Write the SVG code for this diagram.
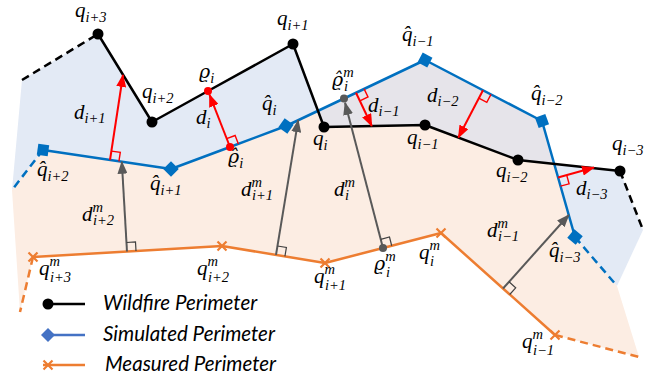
<svg xmlns="http://www.w3.org/2000/svg" width="662" height="379" viewBox="0 0 662 379">
<style>
.m{font-family:"Liberation Serif","DejaVu Serif",serif;font-style:italic;font-size:21px;fill:#000}
.r{font-family:"DejaVu Serif",serif;font-size:19px}
.s{font-family:"Liberation Serif",serif;font-size:14.5px}
.leg{font-family:Lato,"Liberation Sans",sans-serif;font-style:italic;font-size:20.5px;fill:#000}
.blk{fill:none;stroke:#000;stroke-width:2.5;stroke-linejoin:round}
.blu{fill:none;stroke:#0070C0;stroke-width:2.5;stroke-linejoin:round}
.org{fill:none;stroke:#ED7D31;stroke-width:2.5;stroke-linejoin:round}
.dash{stroke-dasharray:8 5}
.ra{fill:none;stroke:#FF0000;stroke-width:2;marker-end:url(#ah-red)}
.ga{fill:none;stroke:#595959;stroke-width:2;marker-end:url(#ah-gray)}
.rr{fill:none;stroke:#FF0000;stroke-width:1.4}
.gr{fill:none;stroke:#404040;stroke-width:1.2}
.bd{fill:#000}
.bq{fill:#0070C0}
.ox{stroke:#ED7D31;stroke-width:2.2;fill:none}
</style>
<defs>
<marker id="ah-red" viewBox="0 0 13 10" refX="12" refY="5" markerWidth="13" markerHeight="10" markerUnits="userSpaceOnUse" orient="auto"><path d="M0,0 L13,5 L0,10 Z" fill="#FF0000"/></marker>
<marker id="ah-gray" viewBox="0 0 13 10" refX="12" refY="5" markerWidth="13" markerHeight="10" markerUnits="userSpaceOnUse" orient="auto"><path d="M0,0 L13,5 L0,10 Z" fill="#595959"/></marker>
<rect id="sq" x="-5.5" y="-5.5" width="11" height="11"/>
<path id="xm" d="M-4.5,-4.5 L4.5,4.5 M-4.5,4.5 L4.5,-4.5"/>
</defs>

<g id="regions">
<polygon points="12,190 43,150 171,169 230,147 286,126 318,111 324,127 425,125 518,160 554,164 575,237 617,286 639,357 555,335 441,233 325,263 222,246 33,257 20,312" fill="#FCEDE3"/>
<polygon points="22,80 98,34 152,122 208,91 293,44 318,111 286,126 230,147 171,169 43,150 12,190" fill="#E3EAF5"/>
<polygon points="554,164 620,171 643,230 617,286 575,237" fill="#E3EAF5"/>
<polygon points="318,111 425,60 542,121 554,164 518,160 425,125 324,127" fill="#E6E4EA"/>
</g>

<g id="connectors">
<polyline class="org" points="33,257 222,246 325,263 383,248 441,233 555,335"/>
<line class="org dash" x1="33" y1="257" x2="20" y2="312"/>
<line class="org dash" x1="555" y1="335" x2="639" y2="357"/>
<polyline class="blu" points="43,150 171,169 230,147 286,126 344,98.5 425,60 542,121 575,237"/>
<line class="blu dash" x1="43" y1="150" x2="12" y2="190"/>
<line class="blu dash" x1="575" y1="237" x2="617" y2="286"/>
<polyline class="blk" points="98,34 152,122 208,91 293,44 324,127 425,125 518,160 620,171"/>
<line class="blk dash" x1="22" y1="80" x2="98" y2="34"/>
<line class="blk dash" x1="620" y1="171" x2="643" y2="230"/>

<line class="ra" x1="110" y1="160" x2="123" y2="75"/>
<polyline class="rr" points="111.4,151.1 120.3,152.4 118.9,161.3"/>
<line class="ra" x1="230" y1="147" x2="209.5" y2="94.7"/>
<polyline class="rr" points="226.7,138.6 235.1,135.5 238.4,143.9"/>
<line class="ra" x1="356" y1="92.8" x2="371.8" y2="126"/>
<polyline class="rr" points="359.9,100.9 368,97 364.1,88.9"/>
<line class="ra" x1="483" y1="90.2" x2="458.4" y2="137.5"/>
<polyline class="rr" points="478.8,98.2 486.8,102.4 491,94.4"/>
<line class="ra" x1="558" y1="177.5" x2="594" y2="167.5"/>
<polyline class="rr" points="566.7,175.1 569.1,183.8 560.5,186.2"/>

<line class="ga" x1="127" y1="251.5" x2="121.8" y2="161.7"/>
<polyline class="gr" points="126.5,242.5 135.5,242 136,251"/>
<line class="ga" x1="276" y1="254.9" x2="298.2" y2="120.2"/>
<polyline class="gr" points="277.5,246 286.4,247.5 284.9,256.4"/>
<line class="ga" x1="383" y1="248" x2="345.1" y2="102.8"/>
<polyline class="gr" points="380.75,239.3 389.5,237 391.7,245.75"/>
<line class="ga" x1="503" y1="288.5" x2="568.8" y2="215"/>
<polyline class="gr" points="509,281.8 515.7,287.8 509.7,294.5"/>
</g>

<g id="wildfire-points">
<circle class="bd" cx="98" cy="34" r="5.5"/>
<circle class="bd" cx="152" cy="122" r="5.5"/>
<circle class="bd" cx="293" cy="44" r="5.5"/>
<circle class="bd" cx="324" cy="127" r="5.5"/>
<circle class="bd" cx="425" cy="125" r="5.5"/>
<circle class="bd" cx="518" cy="160" r="5.5"/>
<circle class="bd" cx="620" cy="171" r="5.5"/>
<circle cx="208" cy="91" r="4" fill="#FF0000"/>
<circle cx="230" cy="147" r="4" fill="#FF0000"/>
</g>

<g id="simulated-points">
<use href="#sq" class="bq" transform="translate(43,150) rotate(8)"/>
<use href="#sq" class="bq" transform="translate(171,169) rotate(45)"/>
<use href="#sq" class="bq" transform="translate(286,126) rotate(35)"/>
<use href="#sq" class="bq" transform="translate(425,60) rotate(28)"/>
<use href="#sq" class="bq" transform="translate(542,121) rotate(-20)"/>
<use href="#sq" class="bq" transform="translate(575,237) rotate(40)"/>
<circle cx="344" cy="98.5" r="4" fill="#595959"/>
</g>

<g id="measured-points">
<use href="#xm" class="ox" transform="translate(33,257)"/>
<use href="#xm" class="ox" transform="translate(222,246)"/>
<use href="#xm" class="ox" transform="translate(325,263)"/>
<use href="#xm" class="ox" transform="translate(441,233)"/>
<use href="#xm" class="ox" transform="translate(555,335)"/>
<circle cx="383" cy="248" r="4" fill="#595959"/>
</g>

<g id="labels">
<text class="m" x="75" y="17">q<tspan class="s" dy="5">i+3</tspan></text>
<text class="m" x="142" y="98">q<tspan class="s" dy="5">i+2</tspan></text>
<text class="m" x="277" y="25">q<tspan class="s" dy="5">i+1</tspan></text>
<text class="m" x="313" y="145">q<tspan class="s" dy="5">i</tspan></text>
<text class="m" x="407" y="144">q<tspan class="s" dy="5">i−1</tspan></text>
<text class="m" x="496" y="177">q<tspan class="s" dy="5">i−2</tspan></text>
<text class="m" x="612" y="150">q<tspan class="s" dy="5">i−3</tspan></text>
<text class="m" x="199" y="78"><tspan class="r">ϱ</tspan><tspan class="s" dy="5">i</tspan></text>
<text class="m" x="228" y="163"><tspan class="r">ϱ̂</tspan><tspan class="s" dy="5">i</tspan></text>
<text class="m" x="332" y="86"><tspan class="r">ϱ̂</tspan><tspan class="s" dy="-9">m</tspan><tspan class="s" x="344" dy="14">i</tspan></text>
<text class="m" x="37" y="176">q̂<tspan class="s" dy="5">i+2</tspan></text>
<text class="m" x="150" y="190">q̂<tspan class="s" dy="5">i+1</tspan></text>
<text class="m" x="262" y="110">q̂<tspan class="s" dy="5">i</tspan></text>
<text class="m" x="402" y="41">q̂<tspan class="s" dy="5">i−1</tspan></text>
<text class="m" x="531" y="100">q̂<tspan class="s" dy="5">i−2</tspan></text>
<text class="m" x="549" y="257">q̂<tspan class="s" dy="5">i−3</tspan></text>
<text class="m" x="74" y="119">d<tspan class="s" dy="4">i+1</tspan></text>
<text class="m" x="196" y="124">d<tspan class="s" dy="4">i</tspan></text>
<text class="m" x="368" y="112">d<tspan class="s" dy="4">i−1</tspan></text>
<text class="m" x="427" y="102">d<tspan class="s" dy="4">i−2</tspan></text>
<text class="m" x="576" y="195">d<tspan class="s" dy="4">i−3</tspan></text>
<text class="m" x="82" y="221">d<tspan class="s" dy="-9">m</tspan><tspan class="s" x="93" dy="13">i+2</tspan></text>
<text class="m" x="241" y="196">d<tspan class="s" dy="-9">m</tspan><tspan class="s" x="252" dy="13">i+1</tspan></text>
<text class="m" x="334" y="196">d<tspan class="s" dy="-9">m</tspan><tspan class="s" x="345" dy="13">i</tspan></text>
<text class="m" x="487" y="237">d<tspan class="s" dy="-9">m</tspan><tspan class="s" x="498" dy="13">i−1</tspan></text>
<text class="m" x="39" y="275">q<tspan class="s" dy="-9">m</tspan><tspan class="s" x="50" dy="16">i+3</tspan></text>
<text class="m" x="197" y="275">q<tspan class="s" dy="-9">m</tspan><tspan class="s" x="208" dy="16">i+2</tspan></text>
<text class="m" x="314" y="283">q<tspan class="s" dy="-9">m</tspan><tspan class="s" x="325" dy="16">i+1</tspan></text>
<text class="m" x="374" y="270"><tspan class="r">ϱ</tspan><tspan class="s" dy="-9">m</tspan><tspan class="s" x="386" dy="16">i</tspan></text>
<text class="m" x="419" y="259">q<tspan class="s" dy="-9">m</tspan><tspan class="s" x="430" dy="16">i</tspan></text>
<text class="m" x="522" y="348">q<tspan class="s" dy="-9">m</tspan><tspan class="s" x="533" dy="16">i−1</tspan></text>
</g>

<g id="legend">
<line x1="43" y1="304" x2="85" y2="304" stroke="#000" stroke-width="2.5"/>
<circle cx="48" cy="304" r="5.5" fill="#000"/>
<text class="leg" x="103" y="310">Wildfire Perimeter</text>
<line x1="43" y1="335" x2="85" y2="335" stroke="#4472C4" stroke-width="2.5"/>
<polygon points="48,328 55,335 48,342 41,335" fill="#4472C4"/>
<text class="leg" x="103" y="341">Simulated Perimeter</text>
<line x1="43" y1="365" x2="85" y2="365" stroke="#ED7D31" stroke-width="2.5"/>
<use href="#xm" class="ox" transform="translate(48,365)"/>
<text class="leg" x="105" y="371">Measured Perimeter</text>
</g>
</svg>
